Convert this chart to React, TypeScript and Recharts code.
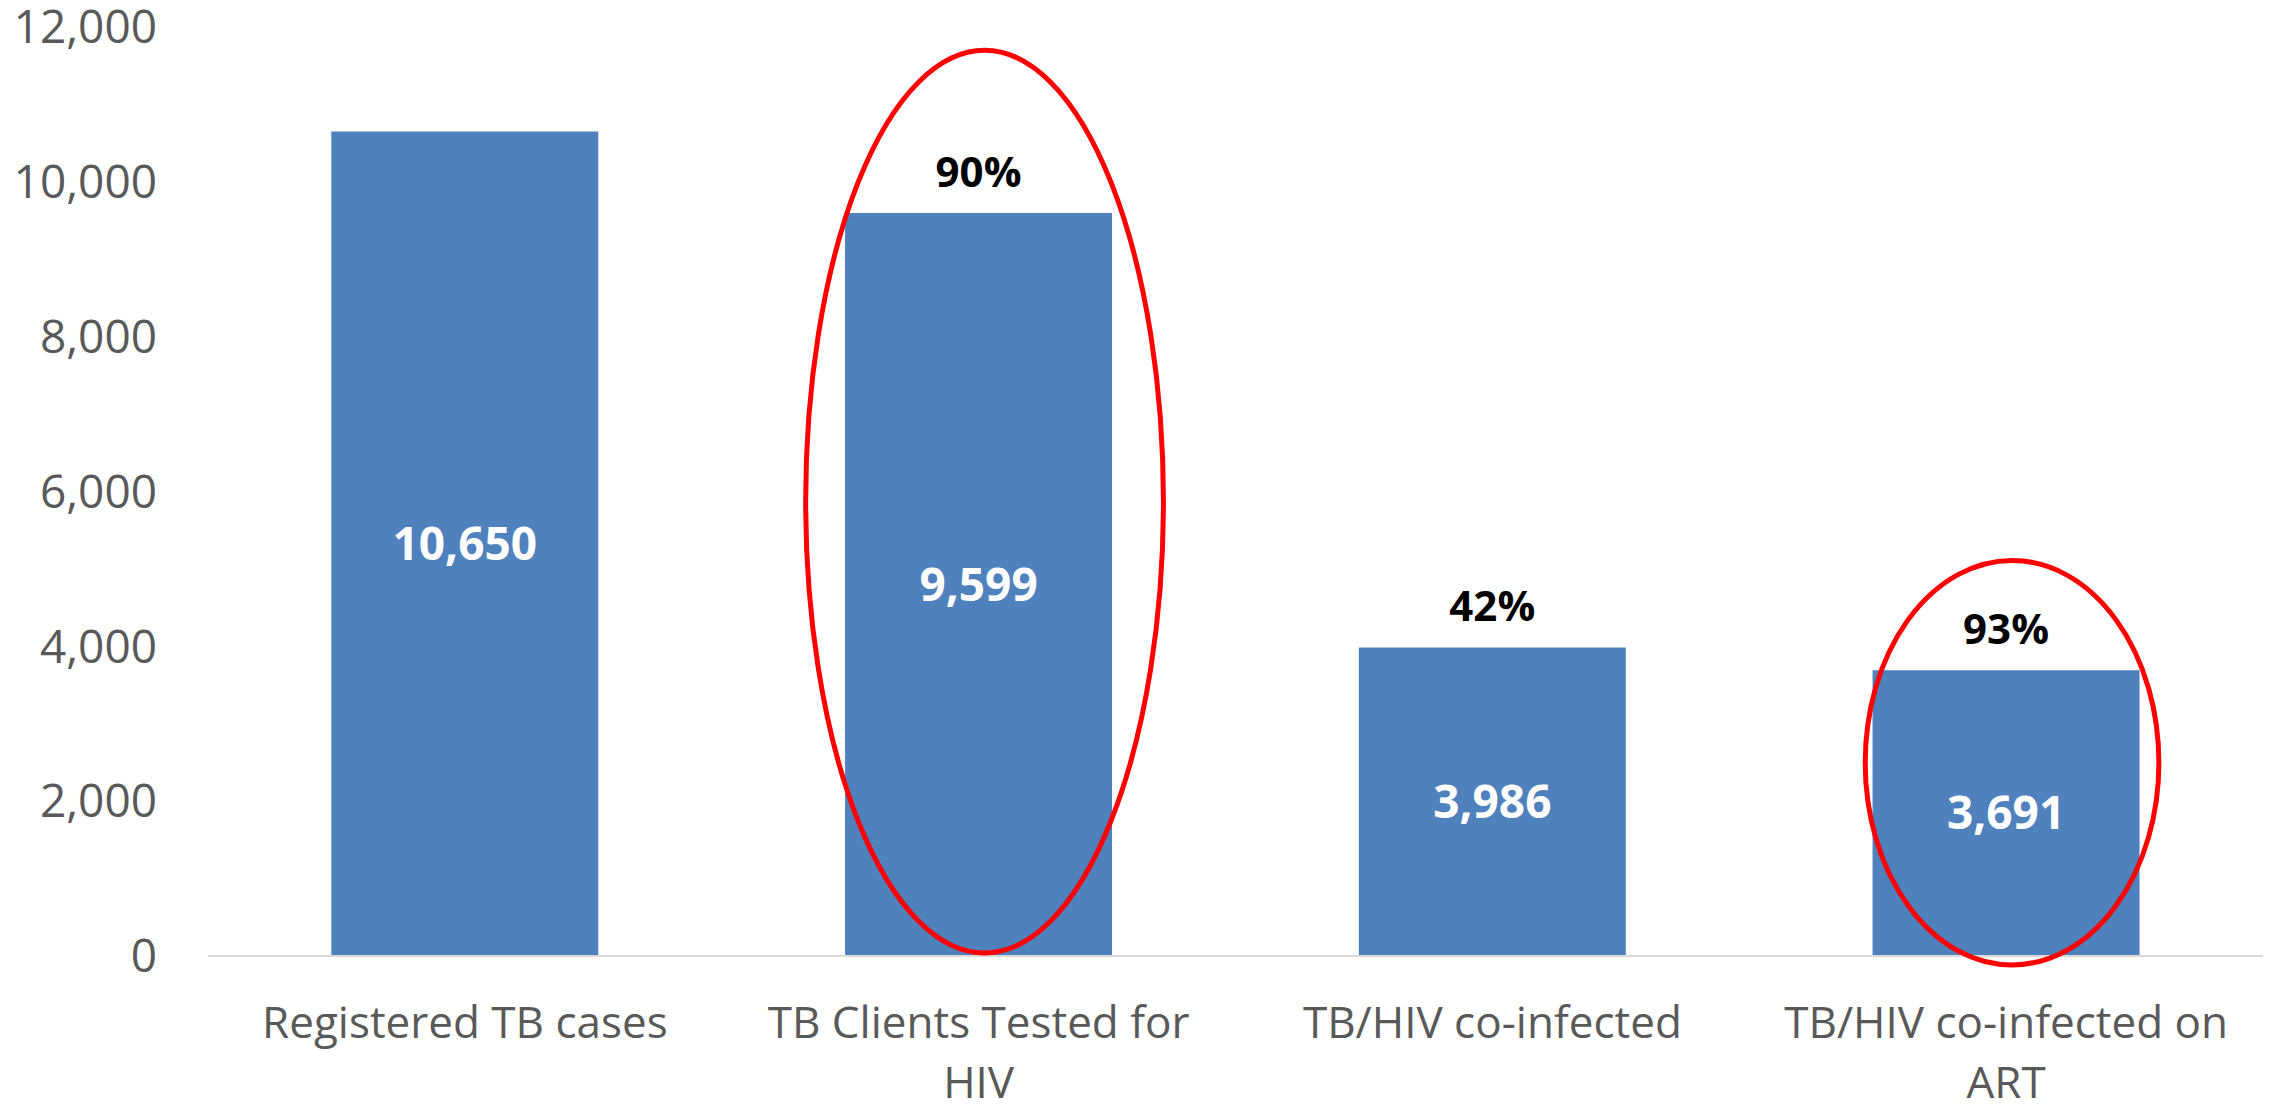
import * as React from 'react';
import { BarChart, Bar, XAxis, YAxis, LabelList } from 'recharts';

const categories = ['Registered TB cases', 'TB Clients Tested for\nHIV', 'TB/HIV co-infected', 'TB/HIV co-infected on\nART'];
const counts = [10650, 9599, 3986, 3691];
const percents = ['', '90%', '42%', '93%'];
const yTicks = [0, 2000, 4000, 6000, 8000, 10000, 12000];

const data = categories.map((name, i) => ({ name, count: counts[i], pct: percents[i] }));

const FONT = '"Open Sans", sans-serif';
const GREY = '#595959';
const fmt = (v: number) => v.toLocaleString('en-US');

// red circles drawn by hand over two of the bars (top/bottom in axis units)
const circles: Record<number, { top: number; bottom: number; widthRatio: number }> = {
  1: { top: 11700, bottom: 40, widthRatio: 1.34 },
  3: { top: 5110, bottom: -115, widthRatio: 1.1 },
};

function CategoryTick({ x, y, payload }: any) {
  const lines = String(payload.value).split('\n');
  return <text x={x} y={y} textAnchor="middle" fill={GREY} fontFamily={FONT} fontSize={44}>
    {lines.map((l, i) => <tspan key={i} x={x} dy={i === 0 ? 74 : 60}>{l}</tspan>)}
  </text>;
}

// uses the bar's own rect to get the value scale, so the ellipse follows the axis
function CircleMark(props: any) {
  const c = circles[props.index];
  if (!c) return null;
  const { x, y, width, height } = props.viewBox;
  const base = y + height;
  const perUnit = height / counts[props.index];
  const top = base - c.top * perUnit;
  const bottom = base - c.bottom * perUnit;
  return <ellipse cx={x + width / 2 + 6} cy={(top + bottom) / 2} rx={(width * c.widthRatio) / 2}
    ry={(bottom - top) / 2} fill="none" stroke="#ff0000" strokeWidth={5} />;
}

export default function App() {
  return <div style={{ position: 'absolute', left: 0, top: 0, background: '#fff' }}>
    <BarChart width={2285} height={1111} data={data} margin={{ top: 27, right: 22, bottom: 0, left: 0 }} barCategoryGap="24%">
      <XAxis dataKey="name" interval={0} tickLine={false} axisLine={{ stroke: '#d9d9d9', strokeWidth: 2 }} tick={<CategoryTick />} height={155} />
      <YAxis width={208} domain={[0, 12000]} ticks={yTicks} tickFormatter={fmt} axisLine={false} tickLine={false}
        tickSize={0} tickMargin={51} tick={{ fill: GREY, fontFamily: FONT, fontSize: 46 }} />
      <Bar dataKey="count" fill="#4f81bd" isAnimationActive={false}>
        <LabelList dataKey="count" position="center" formatter={(v: any) => fmt(Number(v))}
          fill="#ffffff" fontFamily={FONT} fontSize={46} fontWeight="bold" />
        <LabelList dataKey="pct" position="top" offset={26} fill="#000000" fontFamily={FONT} fontSize={42} fontWeight="bold" />
        <LabelList dataKey="count" content={<CircleMark />} />
      </Bar>
    </BarChart>
  </div>;
}
